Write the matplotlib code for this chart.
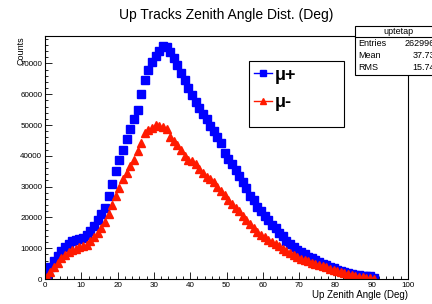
import numpy as np
import matplotlib
matplotlib.use("Agg")
import matplotlib.pyplot as plt
from matplotlib.lines import Line2D
from matplotlib.patches import Rectangle
from matplotlib.ticker import MultipleLocator

plt.rcParams['font.family'] = ['Liberation Sans', 'DejaVu Sans']

# 1 degree bins, centres 0.5 .. 90.5
angle = np.arange(0.5, 91.0, 1.0)

mu_plus = [1500, 4000, 6000, 7500, 9000, 10500, 11500, 12300, 12800, 13000,
           13300, 14200, 15500, 17300, 19300, 21000, 23000, 27000, 31000, 35000,
           38500, 42000, 45500, 48800, 52000, 55000, 60000, 64500, 68000, 70500,
           72300, 74000, 75500, 75300, 73700, 71800, 69500, 67000, 64500, 62000,
           59800, 57500, 55500, 53500, 51800, 49800, 48000, 46200, 44000, 41000,
           39000, 37500, 35500, 33500, 31500, 29500, 27000, 25500, 23500, 22000,
           20500, 19000, 17500, 16500, 15000, 13800, 12500, 11500, 10500, 9500,
           8700, 8000, 7300, 6700, 6100, 5500, 5000, 4500, 4000, 3500,
           3000, 2600, 2300, 2000, 1700, 1400, 1200, 1100, 1000, 900,
           400]

mu_minus = [700, 2200, 3800, 5300, 6700, 7800, 8700, 9400, 9900, 10300,
            10700, 11200, 12200, 13500, 15000, 16500, 18500, 21000, 24000, 27000,
            29500, 32500, 34500, 36800, 38800, 41500, 44000, 47500, 48500, 49000,
            49900, 49700, 49300, 48700, 46000, 44800, 43500, 41800, 40000, 38800,
            38300, 37300, 35800, 34300, 33200, 32600, 31500, 30000, 28500, 27200,
            25800, 24500, 23200, 22000, 20500, 19000, 17800, 16500, 15200, 14400,
            13600, 12800, 12100, 11400, 10600, 9900, 9200, 8500, 7800, 7100,
            6600, 6100, 5700, 5300, 4900, 4500, 4200, 3800, 3400, 3000,
            2600, 2200, 1900, 1500, 1200, 1000, 800, 600, 400, 250,
            100]

stats_labels = ["Entries", "Mean", "RMS"]
stats_values = ["262996", "37.73", "15.74"]

blue = '#0000ff'
red = '#ff1a00'

fig = plt.figure(figsize=(4.32, 3.04), dpi=100)
ax = fig.add_axes([45/432, 1-279/304, 363/432, 243/304])

ax.plot(angle, mu_plus, ls='none', marker='s', ms=5.3, color=blue, mec=blue)
ax.plot(angle, mu_minus, ls='none', marker='^', ms=6.0, color=red, mec=red)

ax.set_xlim(0, 100)
ax.set_ylim(0, 78900)
ax.xaxis.set_major_locator(MultipleLocator(10))
ax.xaxis.set_minor_locator(MultipleLocator(2))
ax.yaxis.set_major_locator(MultipleLocator(10000))
ax.yaxis.set_minor_locator(MultipleLocator(2000))
ax.tick_params(which='both', direction='in', labelsize=5.8, pad=2, width=0.6)
ax.tick_params(which='major', length=5)
ax.tick_params(which='minor', length=2.5)
for s in ax.spines.values():
    s.set_linewidth(0.8)

fig.text(226/432, 1-15/304, "Up Tracks Zenith Angle Dist. (Deg)",
         ha='center', va='center', fontsize=10)
fig.text(408/432, 1-295/304, "Up Zenith Angle (Deg)",
         ha='right', va='center', fontsize=7)
fig.text(21/432, 1-36/304, "Counts", rotation=90,
         ha='center', va='top', fontsize=6.5)

# legend box
fig.patches.append(Rectangle((249/432, 1-127/304), 95/432, 66/304,
                             transform=fig.transFigure, fill=True,
                             facecolor='white', edgecolor='black', lw=0.8, zorder=5))
handles = [Line2D([], [], color=blue, marker='s', ms=4.5, lw=1.0),
           Line2D([], [], color=red, marker='^', ms=4.5, lw=1.0)]
leg = fig.legend(handles, ["μ+", "μ-"], loc='upper left',
                 bbox_to_anchor=(250/432, 1-63/304), frameon=False,
                 prop={'size': 13, 'weight': 'bold'}, handlelength=1.0,
                 handletextpad=0.15, labelspacing=0.6, borderpad=0.2,
                 borderaxespad=0)
leg.set_zorder(6)

# stats box
fig.patches.append(Rectangle((355/432, 1-75/304), 90/432, 49/304,
                             transform=fig.transFigure, facecolor='white',
                             edgecolor='black', lw=0.8, zorder=5))
fig.lines.append(Line2D([355/432, 1], [1-37/304, 1-37/304],
                        transform=fig.transFigure, color='black', lw=0.8, zorder=6))
fig.text(398/432, 1-31/304, "uptetap", ha='center', va='center', fontsize=6.5, zorder=7)
for i, (lab, val) in enumerate(zip(stats_labels, stats_values)):
    yy = 1 - (44 + 12*i)/304
    fig.text(358/432, yy, lab, ha='left', va='center', fontsize=6.5, zorder=7)
    fig.text(435/432, yy, val, ha='right', va='center', fontsize=6.5, zorder=7)

fig.savefig("out.png", dpi=100)
